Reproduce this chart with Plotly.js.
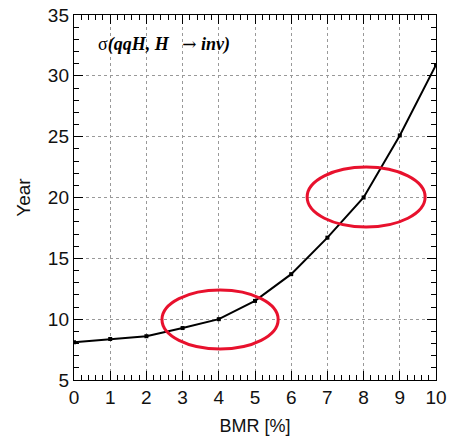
<!DOCTYPE html>
<html><head><meta charset="utf-8">
<script src="https://cdn.plot.ly/plotly-3.0.1.min.js"></script>
<style>body{margin:0;background:#fff}#c{width:450px;height:443px}</style>
</head><body><div id="c"></div>
<script>
const bmr = [0,1,2,3,4,5,6,7,8,9,10];
const years = [8.1,8.37,8.6,9.27,10.0,11.5,13.7,16.7,20.0,25.1,30.9];
const xTicks = [0,1,2,3,4,5,6,7,8,9,10];
const yTicks = [5,10,15,20,25,30,35];
// highlighted ellipses: [x0, x1, y0, y1]
const ellipse1 = [2.43, 5.64, 7.55, 12.4];
const ellipse2 = [6.44, 9.70, 17.57, 22.5];

const axisCommon = {
  showline:true, linecolor:'#000', linewidth:1.2, mirror:'allticks',
  ticks:'inside', ticklen:9, tickcolor:'#000', tickwidth:1,
  showgrid:true, gridcolor:'#999', griddash:'dot', gridwidth:1,
  zeroline:false,
  tickfont:{family:'Liberation Sans, Arial, sans-serif', size:19, color:'#111'}
};
const layout = {
  width:450, height:443,
  margin:{l:74, r:14, t:15, b:63},
  paper_bgcolor:'#fff', plot_bgcolor:'#fff',
  showlegend:false,
  xaxis:Object.assign({}, axisCommon, {
    range:[0,10], tickvals:xTicks, ticktext:xTicks.map(String),
    minor:{dtick:0.2, ticks:'inside', ticklen:5, tickcolor:'#000', showgrid:false},
    title:{text:'BMR [%]', font:{family:'Liberation Sans, Arial, sans-serif', size:18, color:'#111'}, standoff:12}
  }),
  yaxis:Object.assign({}, axisCommon, {
    range:[5,35], tickvals:yTicks, ticktext:yTicks.map(String),
    minor:{dtick:1, ticks:'inside', ticklen:5, tickcolor:'#000', showgrid:false},
    title:{text:'Year', font:{family:'Liberation Sans, Arial, sans-serif', size:19, color:'#111'}, standoff:12}
  }),
  shapes:[ellipse1, ellipse2].map(e => ({
    type:'circle', xref:'x', yref:'y', x0:e[0], x1:e[1], y0:e[2], y1:e[3],
    line:{color:'#e8112d', width:3}
  })),
  annotations:[{
    xref:'paper', yref:'paper', x:0.06, y:0.918, xanchor:'left', yanchor:'middle',
    showarrow:false,
    text:'σ<b><i>(qqH, H</i></b>&nbsp;&nbsp;&nbsp;<span style="font-family:DejaVu Serif;font-size:17px">→</span>&nbsp;<b><i>inv)</i></b>',
    font:{family:'Liberation Serif, Times New Roman, serif', size:18, color:'#000'}
  }]
};
Plotly.newPlot('c', [{
  x:bmr, y:years, type:'scatter', mode:'lines+markers',
  line:{color:'#000', width:2}, marker:{symbol:'square', size:4, color:'#000'}
}], layout, {staticPlot:true});
</script></body></html>
